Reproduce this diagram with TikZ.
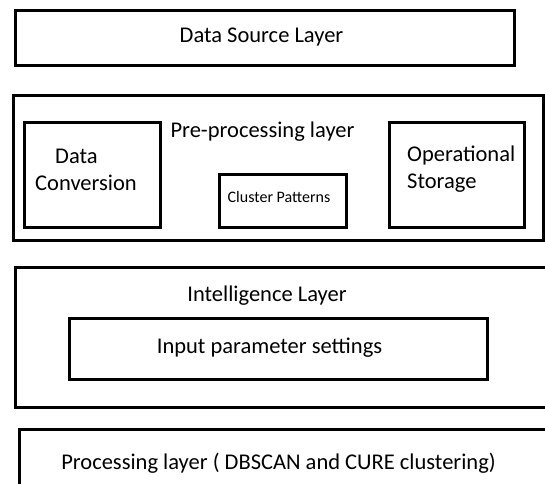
\documentclass[tikz,border=0pt]{standalone}
\usepackage{fontspec}
\setmainfont{Carlito}
\begin{document}
\begin{tikzpicture}[x=1pt,y=-1pt,
  box/.style={draw=black,line width=3pt,rectangle,inner sep=0pt,fill=none},
  lbl/.style={font=\fontsize{22.5}{26.5}\selectfont,inner sep=0pt},
  small/.style={font=\fontsize{16}{19}\selectfont,inner sep=0pt}]
\useasboundingbox (0,0) rectangle (545,483);
\clip (0,0) rectangle (545,483);
% Data source layer
\node[box,minimum width=499pt,minimum height=55pt] (src) at (264.5,37.5) {};
\node[lbl] (srct) at (261.5,37) {Data Source Layer};
% Pre-processing layer
\node[box,minimum width=530pt,minimum height=145pt] (pre) at (278,168) {};
\node[lbl] (pret) at (262.5,132) {Pre-processing layer};
\node[box,minimum width=136pt,minimum height=105pt] (conv) at (92,174.5) {};
\node[lbl,align=left,anchor=west] (convt) at (35,170) {\hspace*{20pt}Data\\Conversion};
\node[box,minimum width=127pt,minimum height=53pt] (clus) at (282.5,201) {};
\node[small] (clust) at (279,197) {Cluster Patterns};
\node[box,minimum width=135pt,minimum height=105pt] (ops) at (456.5,174.5) {};
\node[lbl,align=left,anchor=west] (opst) at (407,169) {Operational\\Storage};
% Intelligence layer
\node[box,minimum width=560pt,minimum height=140pt] (intl) at (295.5,337) {};
\node[lbl] (intlt) at (267,296) {Intelligence Layer};
\node[box,minimum width=418pt,minimum height=61pt] (inp) at (278,348.5) {};
\node[lbl] (inpt) at (269.5,348) {Input parameter settings};
% Processing layer
\node[box,minimum width=560pt,minimum height=100pt] (proc) at (299.5,479.5) {};
\node[lbl] (proct) at (278.5,463) {Processing layer ( DBSCAN and CURE clustering)};
\end{tikzpicture}
\end{document}
